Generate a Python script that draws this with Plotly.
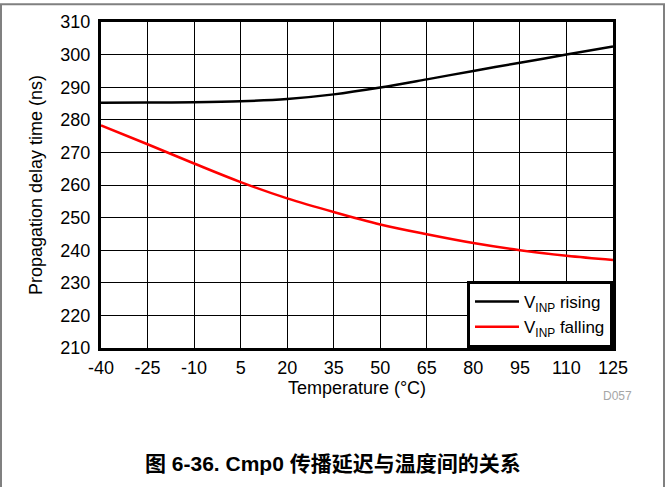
import plotly.graph_objects as go

# Temperature points (°C) and propagation delay (ns)
temps = [-40, -25, -10, 5, 20, 35, 50, 65, 80, 95, 110, 125]
rising = [285.2, 285.3, 285.4, 285.7, 286.4, 287.8, 289.9, 292.4, 295.0, 297.5, 300.0, 302.5]
falling = [278.3, 272.5, 266.6, 260.9, 255.9, 251.7, 247.9, 244.9, 242.2, 240.0, 238.3, 237.0]

x_ticks = [-40, -25, -10, 5, 20, 35, 50, 65, 80, 95, 110, 125]
y_ticks = [210, 220, 230, 240, 250, 260, 270, 280, 290, 300, 310]

FONT = "Arial, Liberation Sans, Noto Sans CJK SC, sans-serif"

# plot area in pixels: x 101..613, y 19..348
L, R, T, B = 101, 613, 19, 348
W, H = 666, 487


def px_to_paper_x(px):
    return (px - L) / (R - L)


def px_to_paper_y(py):
    return (B - py) / (B - T)


fig = go.Figure()
fig.add_trace(go.Scatter(
    x=temps, y=rising, mode="lines", line=dict(color="black", width=2.5, shape="spline"),
    name="V<sub>INP</sub> rising",
))
fig.add_trace(go.Scatter(
    x=temps, y=falling, mode="lines", line=dict(color="#ff0000", width=2.5, shape="spline"),
    name="V<sub>INP</sub> falling",
))

axis_common = dict(
    showgrid=True, gridcolor="black", gridwidth=1,
    showline=True, linecolor="black", linewidth=3, mirror=True,
    zeroline=False, ticks="", tickfont=dict(size=18, color="black", family=FONT),
)

fig.update_xaxes(
    range=[-40, 125], tickvals=x_ticks, ticktext=[str(v) for v in x_ticks],
    title=dict(text="Temperature (°C)", font=dict(size=18, color="black", family=FONT), standoff=0),
    ticklabelstandoff=1,
    **axis_common,
)
fig.update_yaxes(
    range=[210, 310], tickvals=y_ticks,
    title=dict(text="Propagation delay time (ns)", font=dict(size=18, color="black", family=FONT), standoff=14),
    ticklabelstandoff=4,
    **axis_common,
)

# outer grey frame
fig.add_shape(
    type="rect", xref="paper", yref="paper",
    x0=px_to_paper_x(1), x1=px_to_paper_x(664), y0=px_to_paper_y(520), y1=px_to_paper_y(1),
    line=dict(color="#808080", width=2), layer="below",
)

fig.add_annotation(
    text="D057", xref="paper", yref="paper", x=px_to_paper_x(617), y=px_to_paper_y(396),
    xanchor="center", yanchor="middle",
    showarrow=False, font=dict(size=12, color="#a6a6a6", family=FONT),
)
fig.add_annotation(
    text="<b>图 6-36. Cmp0 传播延迟与温度间的关系</b>", xref="paper", yref="paper",
    x=px_to_paper_x(333), y=px_to_paper_y(465), xanchor="center", yanchor="middle",
    showarrow=False, font=dict(size=21, color="black", family=FONT),
)

fig.update_layout(
    width=W, height=H,
    margin=dict(l=L, r=W - R, t=T, b=H - B),
    plot_bgcolor="white", paper_bgcolor="white",
    font=dict(family=FONT, color="black"),
    legend=dict(
        x=1, y=0, xanchor="right", yanchor="bottom",
        bgcolor="white", bordercolor="black", borderwidth=3,
        font=dict(size=17, color="black", family=FONT),
        tracegroupgap=0, itemwidth=44,
    ),
    showlegend=True,
)

fig.write_html(
    "out.html",
    config={"displayModeBar": False},
    post_script="document.body.style.margin='0';",
)
